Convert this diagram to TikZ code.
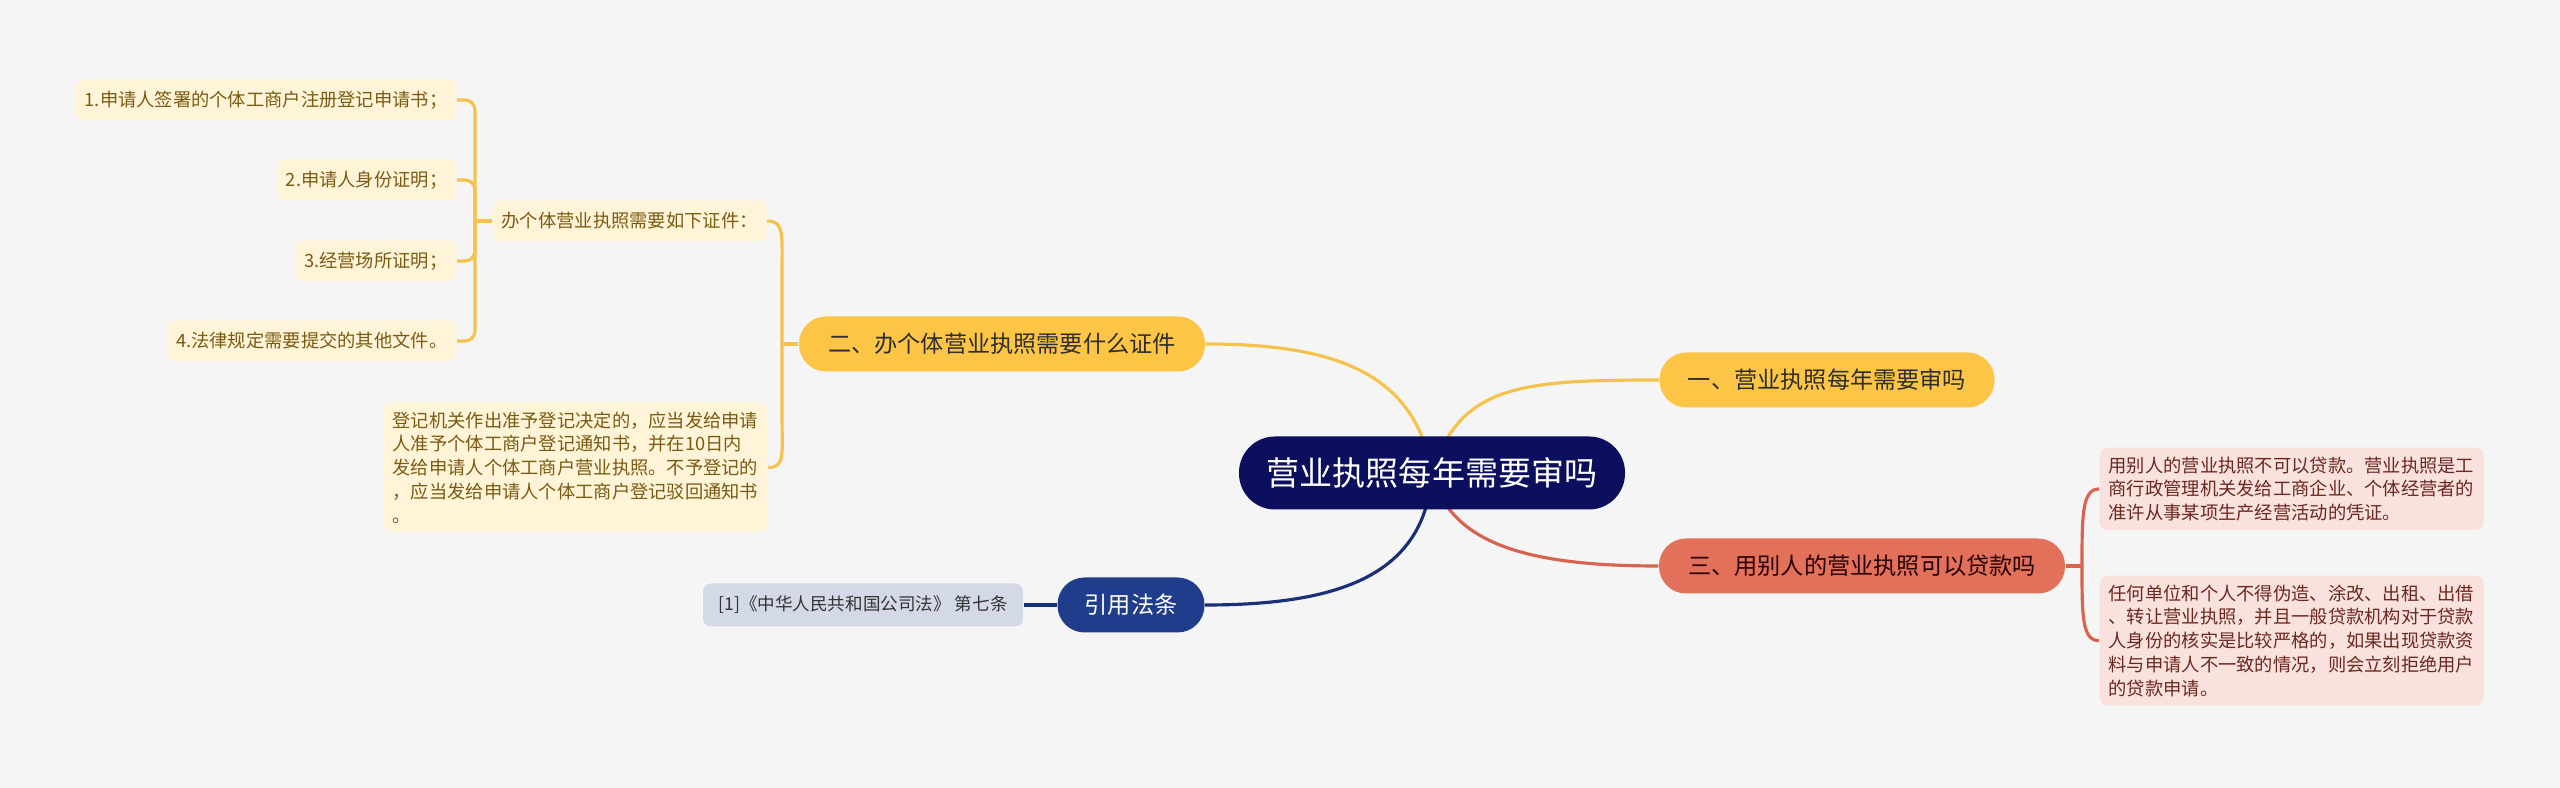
\documentclass[tikz,border=0pt]{standalone}
\usepackage{fontspec}
\setmainfont{Noto Sans CJK SC}
\definecolor{bggray}{HTML}{F5F5F5}
\definecolor{rootc}{HTML}{0B0F5E}
\definecolor{gold}{HTML}{FCC545}
\definecolor{goldln}{HTML}{F6C24C}
\definecolor{goldleaf}{HTML}{FFF3D8}
\definecolor{goldtxt}{HTML}{7A5B12}
\definecolor{coral}{HTML}{E3705B}
\definecolor{coralln}{HTML}{D9634E}
\definecolor{coralleaf}{HTML}{F9E2DE}
\definecolor{coraltxt}{HTML}{6B281E}
\definecolor{navy}{HTML}{1F3D8A}
\definecolor{navyln}{HTML}{192F78}
\definecolor{navyleaf}{HTML}{D4D9E8}
\pgfdeclarelayer{bg}\pgfdeclarelayer{links}\pgfsetlayers{bg,links,main}

\begin{document}
\begin{tikzpicture}[x=0.1mm,y=-0.1mm,
  root/.style={rounded corners=3.6mm, fill=rootc, text=white, font=\fontsize{9.4}{11}\selectfont, minimum width=38.6mm, minimum height=7.3mm, inner sep=0pt},
  topic/.style={rounded corners=2.7mm, text=black!82, font=\fontsize{6.6}{8}\selectfont, minimum height=5.5mm, inner sep=0pt},
  leaf/.style={rounded corners=0.8mm, font=\fontsize{5.2}{6.75}\selectfont, minimum height=4.1mm, inner xsep=0.9mm, inner ysep=0pt},
  para/.style={leaf, align=left, text width=36.6mm, inner ysep=0.9mm},
  docleaf/.style={fill=goldleaf, text=goldtxt},
  loanleaf/.style={fill=coralleaf, text=coraltxt},
  link/.style={line width=0.9pt},
]
\useasboundingbox (0,0) rectangle (2560,788);
\begin{pgfonlayer}{bg}
\fill[bggray] (0,0) rectangle (2560,788);
\end{pgfonlayer}

% root and main topics
\node[root] (c) at (1432,473) {营业执照每年需要审吗};
\node[topic, fill=gold, minimum width=33.5mm] (one) at (1827,380) {一、营业执照每年需要审吗};
\node[topic, fill=gold, minimum width=40.6mm] (two) at (1002,344) {二、办个体营业执照需要什么证件};
\node[topic, fill=coral, text=black!85!red, minimum width=40.6mm] (three) at (1862,566) {三、用别人的营业执照可以贷款吗};
\node[topic, fill=navy, text=white, minimum width=14.7mm] (law) at (1131,605) {引用法条};

% left side
\foreach \i/\y/\t in {1/100/1.申请人签署的个体工商户注册登记申请书；, 2/180/2.申请人身份证明；, 3/261/3.经营场所证明；, 4/341/4.法律规定需要提交的其他文件。}
  \node[leaf, docleaf, anchor=east] (d\i) at (457,\y) {\t};
\node[leaf, docleaf, anchor=west] (need) at (492,221) {办个体营业执照需要如下证件：};
\node[para, docleaf, anchor=north west] (notice) at (383,402) {登记机关作出准予登记决定的，应当发给申请\\人准予个体工商户登记通知书，并在10日内\\发给申请人个体工商户营业执照。不予登记的\\，应当发给申请人个体工商户登记驳回通知书\\。};
\node[leaf, fill=navyleaf, text=black!80, font=\fontsize{5}{6}\selectfont, minimum height=4.3mm, minimum width=32mm, inner xsep=0pt] (cite) at (863,605) {[1]《中华人民共和国公司法》 第七条};

% right side
\node[para, loanleaf, anchor=north west] (r1) at (2099,447) {用别人的营业执照不可以贷款。营业执照是工\\商行政管理机关发给工商企业、个体经营者的\\准许从事某项生产经营活动的凭证。};
\node[para, loanleaf, anchor=north west] (r2) at (2099,575) {任何单位和个人不得伪造、涂改、出租、出借\\、转让营业执照，并且一般贷款机构对于贷款\\人身份的核实是比较严格的，如果出现贷款资\\料与申请人不一致的情况，则会立刻拒绝用户\\的贷款申请。};

\coordinate (hubA) at (475,221);
\coordinate (hubB) at (782,344);
\coordinate (hubC) at (2082,566);

\begin{pgfonlayer}{links}
\draw[link, goldln] (c.center) .. controls (1460,385) and (1520,380) .. (one.west);
\draw[link, goldln] (c.center) .. controls (1415,370) and (1330,344) .. (two.east);
\draw[link, coralln] (c.center) .. controls (1450,545) and (1530,566) .. (three.west);
\draw[link, navyln] (c.center) .. controls (1425,575) and (1340,605) .. (law.east);
\draw[link, navyln] (law) -- (cite);
% brackets
\draw[link, goldln] (two) -- (hubB);
\draw[link, goldln] (need.east) .. controls ([xshift=1.7mm]need.east) and ([yshift=11mm]hubB) .. ([yshift=7mm]hubB) -- (hubB);
\draw[link, goldln] (notice.east) .. controls ([xshift=1.7mm]notice.east) and ([yshift=-11mm]hubB) .. ([yshift=-7mm]hubB) -- (hubB);
\draw[link, goldln] (hubA) -- (need);
\foreach \i in {1,...,4} \draw[link, goldln, rounded corners=1mm] (d\i.east) -| (hubA);
\draw[link, coralln] (three) -- (hubC);
\draw[link, coralln] (r1.west) .. controls ([xshift=-1.7mm]r1.west) and ([yshift=5mm]hubC) .. (hubC);
\draw[link, coralln] (r2.west) .. controls ([xshift=-1.7mm]r2.west) and ([yshift=-5mm]hubC) .. (hubC);
\end{pgfonlayer}

\end{tikzpicture}
\end{document}
